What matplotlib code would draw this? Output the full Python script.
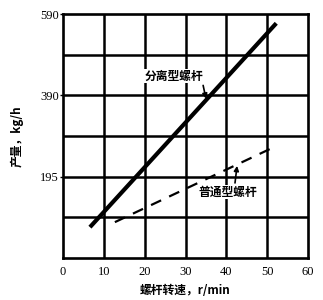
import numpy as np
import matplotlib.pyplot as plt

plt.rcParams['font.family'] = ['Noto Sans CJK SC', 'DejaVu Sans']

# data
x_ticks = [0, 10, 20, 30, 40, 50, 60]
y_grid = [0, 97.5, 195, 292.5, 390, 487.5, 585]
y_tick_pos = [195, 390, 585]
y_tick_labels = ['195', '390', '590']

sep_speed = [6.6, 52.2]      # 分离型螺杆
sep_output = [74, 563]
gen_speed = [12.7, 51.0]     # 普通型螺杆
gen_output = [86, 263]

fig = plt.figure(figsize=(3.23, 3.00), dpi=100, facecolor='w')
ax = fig.add_axes([0.195, 0.14, 0.759, 0.813])

ax.set_xlim(0, 60)
ax.set_ylim(0, 585)

for gx in x_ticks[1:-1]:
    ax.axvline(gx, color='k', lw=1.8, zorder=1)
for gy in y_grid[1:-1]:
    ax.axhline(gy, color='k', lw=1.8, zorder=1)
for s in ax.spines.values():
    s.set_linewidth(1.9)

ax.plot(sep_speed, sep_output, color='k', lw=3.0, solid_capstyle='butt', zorder=3)
ax.plot(gen_speed, gen_output, color='k', lw=1.6, dashes=(5, 4), zorder=3)

serif = 'Liberation Serif'
ax.set_xticks(x_ticks)
ax.set_xticklabels([str(v) for v in x_ticks], family=serif, fontsize=9)
ax.set_yticks(y_tick_pos)
ax.set_yticklabels(y_tick_labels, family=serif, fontsize=9)
ax.tick_params(axis='x', length=0, pad=6)
ax.tick_params(axis='y', length=2, width=1, pad=1)

# labels with short arrows
box = dict(facecolor='w', edgecolor='none', pad=0.5)
ax.text(27.2, 436, '分离型螺杆', ha='center', va='center',
        fontsize=8.5, fontweight='bold', zorder=4, bbox=box)
ax.annotate('', xy=(35.0, 382), xytext=(34.3, 414),
            arrowprops=dict(arrowstyle='-|>', color='k', lw=1.2,
                            mutation_scale=7, shrinkA=0, shrinkB=0))
ax.text(40.4, 158, '普通型螺杆', ha='center', va='center',
        fontsize=8.5, fontweight='bold', zorder=4, bbox=box)
ax.annotate('', xy=(42.6, 221), xytext=(42.1, 180),
            arrowprops=dict(arrowstyle='-|>', color='k', lw=1.2,
                            mutation_scale=7, shrinkA=0, shrinkB=0))

ax.set_xlabel('螺杆转速，r/min', fontsize=8.5, fontweight='bold', labelpad=4)
ax.set_ylabel('产量，kg/h', fontsize=8.5, fontweight='bold', labelpad=12)

fig.savefig('out.png', dpi=100, facecolor='w')
